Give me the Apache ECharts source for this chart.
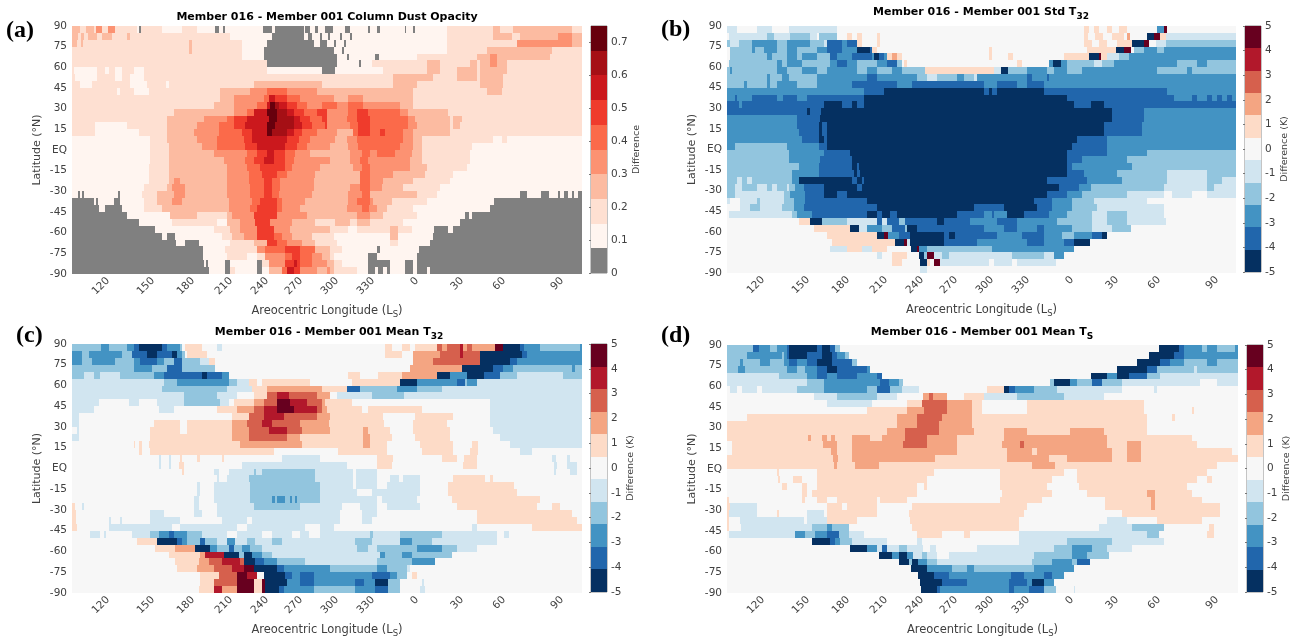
<!DOCTYPE html>
<html><head><meta charset="utf-8">
<style>html,body{margin:0;padding:0;background:#fff}#c{width:1294px;height:637px}</style>
<script src="https://cdn.jsdelivr.net/npm/echarts@6/dist/echarts.min.js"></script>
</head><body><div id="c"></div>
<script>
const lonTickPositions=[36,81,121,159,195,229,265,301,345,390,432,490];
const lonTickLabels=['120','150','180','210','240','270','300','330','0','30','60','90'];
const latTicks=[-90,-75,-60,-45,-30,-15,0,15,30,45,60,75,90];
const redsBins=['#808080','#fff5f0','#fee0d2','#fcbba1','#fc9272','#fb6a4a','#ef3b2c','#cb181d','#a50f15','#67000d'];
const rdbuBins=['#053061','#2166ac','#4393c3','#92c5de','#d1e5f0','#f7f7f7','#fddbc7','#f4a582','#d6604d','#b2182b','#67001f'];
// each row: level, end longitude position, level, end ... (rows run from 90N to 90S in 5 degree bands)
const dustRows=[
[3,8,2,14,3,22,2,24,4,30,2,36,4,43,2,65,1,67,0,69,2,90,1,110,2,125,1,143,0,147,1,151,0,153,1,191,0,200,1,203,0,232,1,233,0,238,1,243,0,246,1,253,0,261,1,273,0,278,1,296,0,298,1,305,0,308,1,333,0,334,1,341,0,343,1,375,2,421,3,428,2,441,3,500,2,510],
[3,6,2,9,3,12,2,16,3,25,2,30,3,40,2,55,3,58,2,158,1,200,0,232,1,236,0,240,1,248,0,250,1,256,0,258,1,268,0,270,1,278,0,280,1,375,2,421,3,440,2,448,3,486,4,500,3,510],
[3,5,2,9,3,11,2,117,3,120,2,170,1,195,0,242,1,248,0,255,1,262,0,264,1,272,0,274,1,375,2,445,4,500,3,510],
[2,117,3,120,2,170,1,192,0,262,1,270,0,272,1,375,2,415,3,480,2,510],
[2,170,1,192,0,265,1,275,0,277,1,303,0,307,1,345,2,405,3,418,4,425,3,478,2,510],
[2,195,0,265,1,287,0,289,1,300,2,355,3,368,2,398,3,405,2,408,3,418,4,425,3,435,2,510],
[2,2,1,25,2,33,1,37,2,43,1,50,2,62,1,72,2,195,1,250,0,263,1,311,2,355,3,368,2,385,3,405,2,408,3,435,2,510],
[2,3,1,25,2,43,1,50,2,58,1,72,2,321,3,361,2,385,3,405,2,408,3,431,2,510],
[2,8,1,20,2,58,1,75,2,94,1,97,2,182,3,250,2,321,3,345,2,408,3,431,2,510],
[2,45,1,48,2,62,1,77,2,148,3,178,4,195,5,215,4,245,3,341,2,415,3,430,2,510],
[2,148,3,162,4,192,5,197,7,203,6,215,5,228,4,262,3,276,4,291,3,341,2,510],
[2,142,3,162,4,185,5,195,7,198,9,203,8,207,7,215,6,225,5,235,4,250,5,265,4,276,5,291,4,328,3,341,2,510],
[2,102,3,162,4,175,5,182,7,195,9,205,8,215,7,222,6,232,5,245,6,255,4,276,5,285,6,296,5,328,4,336,3,376,2,510],
[2,95,3,132,4,155,5,162,6,175,7,197,9,205,8,222,7,228,6,238,5,250,6,255,4,275,5,285,6,298,5,336,4,343,3,378,2,381,3,390,2,510],
[2,23,1,55,2,95,3,125,4,147,5,162,6,173,7,195,9,203,8,222,7,230,6,240,5,253,6,255,4,278,5,286,6,298,5,336,4,345,3,378,2,381,3,388,2,510],
[2,23,1,67,2,95,3,122,4,147,5,170,6,180,7,195,9,200,8,215,7,222,6,230,5,245,4,265,3,281,5,286,6,298,5,308,6,313,5,331,4,341,3,378,2,510],
[1,78,2,95,3,125,4,145,5,172,6,180,7,215,6,227,5,238,4,263,3,275,4,285,5,331,4,341,3,350,2,421,1,430,2,435,1,510],
[1,78,2,97,3,130,4,145,5,173,6,185,7,213,6,225,5,235,4,258,3,276,4,286,5,328,4,341,3,350,2,400,1,510],
[1,78,2,97,3,142,4,175,5,185,6,195,7,202,6,213,5,223,4,238,3,278,4,290,5,298,4,305,5,323,4,340,3,350,2,398,1,510],
[1,78,2,97,3,152,4,173,5,182,6,192,7,202,6,213,5,222,4,258,3,278,4,288,5,296,4,338,3,350,2,398,1,510],
[1,77,2,97,3,155,4,175,5,188,6,213,5,220,4,248,3,281,4,290,5,298,4,338,3,355,2,395,1,510],
[1,77,2,97,3,155,4,177,5,190,6,205,5,215,4,243,3,288,5,298,4,321,3,353,2,381,1,510],
[1,77,2,97,3,102,4,108,3,155,4,177,5,192,6,200,5,208,4,242,3,288,5,298,4,311,3,341,2,378,1,510],
[1,72,2,95,3,100,4,113,3,155,4,178,5,192,6,200,5,208,4,242,3,278,4,288,5,298,4,310,3,331,2,368,1,510],
[1,6,0,8,1,10,0,12,1,46,0,48,1,70,2,85,3,102,4,113,3,155,4,178,5,192,6,200,5,207,4,240,3,276,4,290,5,298,3,345,2,365,1,448,0,455,1,469,0,477,1,486,0,488,1,492,0,496,1,500,0,502,1,506,0,510],
[0,22,1,24,0,26,1,42,0,48,1,72,2,85,3,100,4,110,3,157,4,180,5,188,6,205,5,210,4,233,3,276,4,285,5,298,4,301,3,320,2,355,1,422,0,510],
[0,27,1,33,0,50,1,72,2,90,3,157,4,178,5,185,6,205,5,210,4,228,3,275,4,290,5,297,4,305,3,315,2,341,1,418,0,510],
[0,55,1,98,3,125,2,155,3,160,4,182,6,205,4,235,3,285,4,298,3,311,2,345,1,393,0,397,1,400,0,510],
[0,67,1,100,2,145,1,155,3,168,4,183,6,198,4,220,3,243,2,263,3,278,2,285,3,298,2,331,1,388,0,510],
[0,83,1,142,2,158,3,168,4,185,6,202,4,218,3,258,2,276,1,285,2,318,3,326,2,340,1,362,0,376,1,381,0,510],
[0,90,1,95,0,103,1,150,2,160,3,172,4,185,6,202,5,210,4,220,3,240,2,262,1,318,3,326,1,361,0,510],
[0,104,1,113,0,127,1,158,2,182,3,195,6,205,5,215,4,230,3,243,2,265,1,318,2,326,1,358,0,510],
[0,131,1,153,2,185,4,193,5,213,6,228,5,243,3,258,2,270,1,305,0,308,1,347,0,510],
[0,131,1,155,2,175,1,185,2,193,4,213,5,220,6,228,5,240,4,250,3,258,2,262,1,296,0,305,1,345,0,510],
[0,132,1,134,0,136,1,153,0,158,1,185,0,190,2,197,4,213,6,222,7,225,6,228,5,240,4,255,3,262,2,270,1,296,0,318,1,333,0,341,1,345,0,510],
[0,137,1,153,0,158,2,163,1,185,0,190,1,197,3,210,5,215,7,222,6,228,4,245,3,255,4,258,3,262,2,285,1,296,0,303,1,306,0,311,1,315,0,318,1,333,0,341,1,345,0,355,1,358,0,510]
];
const stdT32Rows=[
[4,10,5,30,4,45,5,62,4,110,5,357,6,362,5,367,6,372,5,380,6,385,5,392,6,400,5,430,2,437,10,440,5,509],
[5,2,4,40,3,47,4,63,3,83,4,90,5,92,3,110,5,120,6,125,5,130,6,135,5,150,6,153,5,357,6,361,5,368,6,376,5,385,6,397,5,400,7,403,5,420,0,427,10,433,6,439,4,509],
[3,3,4,12,3,25,2,50,3,60,2,83,3,97,4,100,1,115,2,120,1,130,6,135,5,150,6,153,5,357,6,365,5,372,6,380,5,390,6,405,0,417,10,422,5,429,4,439,3,509],
[5,3,3,25,2,28,3,37,2,50,3,60,2,70,3,90,2,100,1,115,2,130,0,143,1,145,6,150,5,262,6,265,5,360,6,389,0,397,10,404,5,407,3,417,2,430,3,437,2,509],
[5,3,3,40,2,45,3,60,2,70,3,75,2,90,3,103,1,110,2,125,1,145,2,147,0,152,1,157,2,160,6,165,7,170,6,175,5,262,6,265,5,281,6,286,5,337,6,362,0,372,10,374,6,380,4,392,3,402,2,509],
[5,2,3,50,2,55,3,60,2,75,3,103,2,110,1,120,2,130,3,150,2,160,1,170,3,175,5,177,6,180,5,290,6,295,5,322,2,326,0,334,2,340,3,367,4,375,3,387,2,450,3,470,2,480,3,509],
[3,3,2,5,3,50,2,60,3,75,2,90,3,100,2,130,3,140,2,150,3,165,2,175,3,198,6,267,4,274,0,281,3,300,2,320,3,327,2,340,3,355,2,430,3,460,2,465,3,509],
[3,40,2,43,3,55,2,62,3,90,2,140,1,150,2,190,3,200,4,210,3,230,2,237,3,247,4,250,2,300,1,305,2,320,1,322,2,509],
[3,17,2,20,3,40,2,43,3,50,2,70,3,90,2,125,1,170,2,185,1,257,2,270,1,290,2,300,1,317,2,509],
[2,137,1,157,0,257,1,262,0,265,1,270,0,317,1,440,2,509],
[2,8,1,10,2,25,1,50,2,56,1,70,2,80,1,137,0,340,1,447,2,465,1,470,2,480,1,485,2,490,1,495,2,500,1,505,2,509],
[1,12,2,15,1,97,0,115,1,125,0,130,1,137,0,347,1,364,0,377,1,509],
[1,80,0,83,1,94,0,385,1,417,2,509],
[2,70,1,93,0,385,1,417,2,509],
[2,70,1,92,0,95,1,100,0,377,1,415,2,509],
[2,72,1,92,0,95,1,100,0,377,1,415,2,509],
[2,75,1,92,0,97,1,100,0,350,1,380,2,509],
[2,8,3,60,2,92,1,100,0,345,1,380,2,509],
[3,62,2,97,1,123,0,340,1,380,2,420,3,509],
[3,62,2,93,1,125,0,340,1,355,2,400,3,509],
[3,72,2,92,1,125,0,130,1,132,0,340,1,345,2,405,3,509],
[3,65,2,92,1,127,0,130,1,133,0,340,1,357,2,390,3,440,4,480,3,509],
[3,10,4,15,3,20,4,25,3,65,2,72,0,125,1,130,0,135,1,137,0,320,1,360,2,395,3,440,4,480,3,495,4,509],
[3,8,4,15,3,30,4,40,3,45,4,50,3,60,4,62,3,68,2,77,1,97,0,130,1,135,0,332,1,352,2,364,3,437,4,480,3,487,4,509],
[3,8,4,57,3,63,2,78,1,97,0,110,1,120,0,320,1,340,2,355,3,400,4,437,5,445,4,465,5,480,4,509],
[4,3,5,13,4,30,3,33,4,57,3,67,2,78,1,140,0,307,1,325,2,345,3,367,4,420,5,509],
[5,13,4,23,3,33,4,55,3,67,2,77,1,150,0,247,1,277,0,310,1,325,2,345,3,370,4,437,5,509],
[5,2,4,65,3,70,2,85,1,140,0,150,1,155,0,163,1,170,0,230,1,257,2,265,1,267,2,280,0,297,1,322,2,340,3,365,4,380,3,400,4,437,5,509],
[5,72,6,83,0,95,3,120,4,150,1,155,4,160,1,172,3,178,1,210,0,217,1,243,2,270,1,290,2,330,3,365,4,380,3,400,4,439,5,509],
[5,87,6,123,0,132,4,140,2,155,3,165,1,178,3,180,0,190,1,257,2,277,1,290,2,310,1,317,2,345,3,365,4,385,3,404,5,509],
[5,100,6,150,0,157,10,161,2,172,1,183,0,217,1,222,0,228,1,270,2,295,1,317,2,335,3,347,2,365,1,375,0,380,5,509],
[5,105,6,168,0,177,10,180,4,183,0,217,1,250,2,300,1,317,2,337,1,347,0,363,5,509],
[5,103,4,120,6,135,4,145,6,160,5,184,0,190,10,192,2,200,3,265,2,347,5,509],
[5,150,4,155,5,165,6,180,5,192,0,197,3,200,10,207,4,215,3,222,4,285,3,317,4,327,2,337,5,509],
[5,165,6,175,5,193,0,200,6,203,5,207,10,213,4,262,5,267,4,285,5,290,4,329,5,509],
[5,193,4,200,5,509]
];
const meanT32Rows=[
[3,29,2,37,3,55,2,62,1,67,0,90,1,95,2,108,3,110,5,113,6,130,5,145,4,150,5,313,6,320,5,330,6,338,5,343,6,365,8,370,7,375,8,388,9,391,7,395,8,400,7,423,10,431,0,448,1,452,2,468,3,508,2,510],
[2,10,3,17,2,50,3,60,1,75,0,85,1,100,0,105,2,110,3,113,5,115,6,135,5,313,6,330,5,341,7,368,8,388,9,391,8,408,0,450,1,455,2,510],
[2,10,3,20,2,43,3,62,2,68,1,85,2,92,3,102,1,110,3,128,4,137,6,143,5,341,7,361,8,408,0,438,1,445,2,510],
[3,62,2,80,3,95,1,110,3,143,5,338,7,390,0,421,1,431,2,441,3,500,2,503,3,510],
[3,12,4,22,3,28,4,48,3,82,2,92,1,130,0,135,1,150,2,157,5,276,6,288,5,306,6,330,7,365,0,378,2,395,0,412,1,428,3,445,4,491,3,510],
[4,92,3,105,2,157,3,165,4,177,6,185,5,190,6,238,5,280,6,328,0,345,2,385,1,393,3,395,2,405,4,510],
[4,90,3,155,4,180,6,195,7,250,6,275,1,288,3,325,2,345,3,370,4,510],
[4,112,3,145,4,165,5,182,6,195,8,205,9,217,8,245,7,258,5,265,4,300,3,332,4,510],
[4,27,5,57,4,67,5,85,4,112,3,148,4,157,5,162,6,182,7,192,8,205,10,218,9,235,8,250,7,253,6,280,5,418,4,510],
[4,22,5,87,4,102,5,145,6,165,7,182,8,192,9,205,10,222,9,245,8,250,7,255,6,290,5,296,6,350,5,418,4,510],
[4,7,5,160,6,177,8,192,9,212,8,245,7,258,6,311,5,343,6,381,5,418,4,510],
[4,7,5,82,6,108,5,115,6,160,7,175,8,190,9,200,8,228,7,257,6,312,5,341,6,375,5,418,4,510],
[5,5,4,7,5,78,6,108,5,115,6,160,7,177,8,197,9,215,8,230,7,258,6,291,7,296,6,318,5,341,6,378,5,421,4,510],
[4,7,5,78,6,160,7,177,8,215,7,228,6,291,7,298,6,320,5,343,6,378,5,428,4,510],
[5,62,6,63,5,67,6,70,5,77,6,168,7,230,6,291,7,298,6,315,5,348,6,381,5,400,6,406,5,438,4,510],
[5,67,6,70,5,78,6,202,5,266,6,315,5,350,6,381,5,398,6,406,5,448,4,460,5,510],
[5,87,4,89,5,97,4,99,5,108,6,110,5,125,6,128,5,150,6,152,5,210,4,248,5,305,6,321,5,370,6,385,5,392,6,405,5,480,4,484,5,495,4,498,5,510],
[5,87,4,89,5,97,4,99,5,107,6,112,5,170,4,275,5,305,6,320,5,391,6,405,5,482,4,485,5,495,4,505,5,510],
[5,110,6,112,5,142,4,147,5,157,4,182,3,184,4,190,3,243,4,281,5,284,4,305,5,482,4,484,5,498,4,505,5,510],
[5,145,4,147,5,155,4,177,3,243,4,281,5,284,4,305,5,318,4,327,5,331,4,348,5,381,6,413,5,418,6,421,5,510],
[5,125,4,128,5,142,4,178,3,248,4,281,5,284,4,305,5,315,4,348,5,376,6,442,5,510],
[5,125,4,128,5,142,4,178,3,248,4,285,5,300,4,348,5,376,6,445,5,510],
[5,122,4,127,5,142,4,178,3,200,2,203,3,205,2,213,3,218,2,220,3,223,2,225,3,248,4,305,5,310,4,345,5,380,6,468,5,510],
[6,3,5,10,4,12,5,122,4,127,5,145,4,182,3,228,4,270,5,288,4,305,5,315,4,348,5,385,6,465,5,480,6,488,5,510],
[6,4,5,78,4,92,5,122,4,130,5,145,4,268,5,290,4,305,5,405,6,500,5,510],
[6,4,5,37,4,39,5,48,4,50,5,78,4,108,5,150,4,175,5,180,4,268,5,290,4,300,5,405,6,505,5,510],
[6,5,5,37,4,100,5,108,4,165,5,175,4,233,5,248,4,262,5,400,4,405,5,460,6,510],
[5,18,4,28,5,32,4,34,5,60,4,78,3,87,2,97,1,102,2,115,3,130,4,155,5,165,4,190,5,200,4,220,5,228,4,237,5,248,4,298,3,301,4,328,3,370,4,425,5,432,4,437,5,510],
[5,65,6,85,0,105,1,110,2,115,3,128,1,133,3,145,4,155,2,163,4,175,3,183,4,200,3,210,4,283,3,300,4,328,2,340,3,360,4,425,5,510],
[5,83,6,103,7,123,0,138,2,145,3,157,1,162,3,170,2,178,3,190,4,285,3,296,4,305,3,345,2,370,3,385,4,405,5,510],
[5,97,6,128,7,133,9,152,0,167,3,172,0,180,2,190,3,200,4,308,2,313,3,330,2,340,3,380,5,510],
[5,103,6,127,7,137,8,150,9,168,8,172,0,183,1,192,2,205,3,233,4,305,3,340,2,363,5,510],
[5,105,6,125,7,142,8,160,9,172,10,182,0,205,1,212,2,258,3,305,2,315,3,335,4,338,5,510],
[5,128,6,147,8,165,10,175,9,185,5,192,0,213,1,220,2,228,1,242,2,300,1,318,2,325,3,335,5,340,6,345,5,510],
[5,128,6,142,8,165,10,182,6,190,10,193,0,215,2,228,1,242,2,283,1,292,2,303,0,316,3,328,5,350,4,352,5,510],
[5,127,6,142,9,150,7,165,10,182,6,190,10,193,0,207,1,212,2,242,3,283,2,303,1,316,3,328,5,348,4,353,5,510]
];
const meanTsRows=[
[3,26,1,32,2,43,3,50,2,60,1,62,0,90,1,95,0,103,1,108,3,113,5,432,0,452,1,457,2,475,3,480,2,490,3,508,2,511],
[3,20,2,55,3,57,2,60,1,62,0,80,1,95,0,105,1,110,2,118,3,122,5,422,0,447,1,457,2,511],
[3,13,2,16,3,33,2,43,3,57,2,62,1,70,2,80,1,90,0,105,1,125,3,130,5,410,0,433,1,443,2,457,3,480,2,490,3,511],
[3,11,2,18,3,60,2,70,3,78,2,90,1,100,0,110,1,140,2,143,5,390,0,420,1,430,3,467,4,470,3,511],
[4,52,3,80,2,90,1,100,2,110,1,130,2,150,1,155,5,364,0,380,2,390,0,402,1,420,3,433,4,511],
[4,80,3,97,2,153,1,162,2,172,3,176,5,323,3,327,0,343,2,350,3,365,1,375,3,395,4,473,5,490,4,511],
[5,3,4,10,5,15,4,30,5,35,4,70,3,97,2,140,3,150,1,163,3,175,4,192,5,260,6,277,0,282,1,288,2,307,3,330,4,395,5,427,4,430,5,511],
[5,87,4,110,3,150,4,170,5,196,7,202,8,206,7,220,5,237,6,257,4,290,3,337,4,377,5,511],
[5,100,4,145,5,180,6,195,8,220,7,245,6,255,5,300,6,417,5,511],
[5,140,6,180,7,197,8,220,7,245,6,255,5,300,6,417,5,465,6,467,5,511],
[5,20,6,170,7,190,8,215,7,245,6,420,5,445,6,448,5,511],
[6,170,7,190,8,212,7,245,6,420,5,511],
[6,160,7,178,8,212,7,247,6,277,7,300,6,343,7,377,6,420,5,511],
[6,81,7,84,6,95,7,100,6,104,7,108,6,125,7,143,6,155,7,178,8,200,7,230,6,277,7,380,6,465,5,511],
[5,5,6,96,7,110,6,125,7,176,8,200,7,230,6,275,7,293,8,297,7,380,6,400,7,414,6,470,5,511],
[5,5,6,104,7,110,6,125,7,230,6,280,7,305,6,310,7,385,6,400,7,414,6,505,5,511],
[6,106,7,111,6,125,7,208,6,280,7,322,6,340,7,385,6,400,7,414,6,511],
[6,107,7,110,6,128,7,152,6,305,7,328,6,490,5,511],
[5,50,6,52,5,90,6,207,5,273,6,337,5,350,6,480,5,511],
[5,51,6,53,5,66,6,75,5,90,6,200,5,273,6,325,5,350,6,470,5,480,6,485,5,511],
[5,55,6,60,5,75,6,80,5,90,6,190,5,197,6,200,5,273,6,320,5,352,6,460,5,511],
[5,75,6,80,5,85,6,190,5,275,6,325,5,360,6,420,7,428,6,465,5,511],
[6,2,5,75,6,78,5,90,6,100,5,110,6,150,5,153,6,180,5,273,6,315,5,378,6,424,7,428,6,475,5,511],
[6,3,4,30,5,100,6,115,5,120,6,150,5,185,6,300,5,378,6,424,7,428,6,493,5,511],
[6,2,4,30,5,50,6,52,5,80,4,97,5,100,6,150,5,182,6,297,5,395,6,493,5,511],
[6,2,5,13,4,77,5,80,4,100,6,130,5,183,6,292,5,380,4,400,5,430,6,475,5,511],
[6,2,5,14,4,85,3,100,2,105,3,122,5,185,6,292,5,372,4,405,3,437,5,482,6,487,5,511],
[5,2,4,68,2,78,3,88,2,100,1,112,3,122,4,137,5,190,6,215,5,237,6,243,5,292,4,420,3,432,5,480,6,487,5,511],
[5,85,0,103,1,108,2,113,3,125,4,160,5,190,4,195,5,292,4,340,3,385,4,437,5,511],
[5,123,0,140,2,150,4,155,1,160,4,172,3,180,4,196,5,203,4,209,5,250,4,327,3,345,2,365,3,380,4,405,5,511],
[5,152,0,165,2,172,0,180,2,186,4,195,3,200,4,210,5,222,4,307,3,345,2,360,3,382,5,511],
[5,172,0,182,3,185,0,191,2,200,3,210,4,305,3,325,2,345,3,350,1,363,5,511],
[5,184,0,200,2,225,3,240,2,247,3,307,2,347,5,511],
[5,191,0,207,1,222,2,284,1,297,2,317,1,325,2,337,5,511],
[5,193,0,215,1,240,2,282,1,300,2,305,0,317,2,327,5,511],
[5,194,0,210,1,213,2,282,1,287,2,302,1,317,3,329,5,347,4,348,5,511]
];

const textColor='#404040';
const fontFamily='"DejaVu Sans"';
function cells(rows){
  const out=[];
  rows.forEach((r,i)=>{
    let s=0;
    for(let k=0;k<r.length;k+=2){
      const e=r[k+1];
      if(e>s){out.push([s,e,90-5*i,85-5*i,r[k]]);s=e;}
    }
  });
  return out;
}
function rectItem(colors){
  return function(params,api){
    const a=api.coord([api.value(0),api.value(2)]);
    const b=api.coord([api.value(1),api.value(3)]);
    const c=colors[api.value(4)];
    const x0=Math.round(a[0]),x1=Math.round(b[0]),y0=Math.round(a[1]),y1=Math.round(b[1]);
    return {type:'rect',shape:{x:x0,y:y0,width:x1-x0,height:y1-y0},style:{fill:c}};
  };
}
const panels=[
 {rows:dustRows,colors:redsBins,title:'Member 016 - Member 001 Column Dust Opacity',letter:'(a)',letterX:6,letterY:19,
  x:72,y:26,w:510,h:248,cx:591,cw:16,ttop:12,tx:327,cmin:0,cmax:0.75,step:0.1,cname:'Difference',cgap:22},
 {rows:stdT32Rows,colors:rdbuBins,title:'Member 016 - Member 001 Std T{b|32}',letter:'(b)',letterX:661,letterY:18,
  x:727,y:26,w:509,h:247,cx:1245,cw:16,ttop:4,tx:981,cmin:-5,cmax:5,step:1,cname:'Difference (K)',cgap:17},
 {rows:meanT32Rows,colors:rdbuBins,title:'Member 016 - Member 001 Mean T{b|32}',letter:'(c)',letterX:16,letterY:324,
  x:72,y:344,w:510,h:249,cx:591,cw:16,ttop:324,tx:329,cmin:-5,cmax:5,step:1,cname:'Difference (K)',cgap:17},
 {rows:meanTsRows,colors:rdbuBins,title:'Member 016 - Member 001 Mean T{b|S}',letter:'(d)',letterX:661,letterY:324,
  x:727,y:345,w:511,h:248,cx:1247,cw:16,ttop:324,tx:982,cmin:-5,cmax:5,step:1,cname:'Difference (K)',cgap:17}
];
const option={animation:false,backgroundColor:'#fff',title:[],grid:[],xAxis:[],yAxis:[],series:[]};
panels.forEach(p=>{
  const gi=option.grid.length;
  option.grid.push({left:p.x,top:p.y,width:p.w,height:p.h,show:false,outerBoundsMode:'none'});
  option.xAxis.push({gridIndex:gi,type:'value',min:0,max:p.w,splitLine:{show:false},axisLine:{show:false},axisTick:{show:false},
    name:'Areocentric Longitude (L{s|S})',nameLocation:'middle',nameGap:29,
    nameTextStyle:{color:textColor,fontSize:11.5,fontFamily:fontFamily,rich:{s:{fontSize:8.5,color:textColor,fontFamily:fontFamily,verticalAlign:'bottom',padding:[7,0,0,0]}}},
    axisLabel:{customValues:lonTickPositions,rotate:45,margin:5,color:textColor,fontSize:10.5,fontFamily:fontFamily,
      formatter:v=>lonTickLabels[lonTickPositions.indexOf(v)]}});
  option.yAxis.push({gridIndex:gi,type:'value',min:-90,max:90,splitLine:{show:false},axisLine:{show:false},axisTick:{show:false},
    name:'Latitude (°N)',nameLocation:'middle',nameGap:29,nameRotate:90,
    nameTextStyle:{color:textColor,fontSize:11,fontFamily:fontFamily},
    axisLabel:{customValues:latTicks,margin:5,color:textColor,fontSize:10.5,fontFamily:fontFamily,formatter:v=>v===0?'EQ':String(v)}});
  option.series.push({type:'custom',coordinateSystem:'cartesian2d',xAxisIndex:gi,yAxisIndex:gi,clip:true,progressive:0,silent:true,
    renderItem:rectItem(p.colors),encode:{x:[0,1],y:[2,3]},data:cells(p.rows)});
  // colour bar
  const ci=option.grid.length;
  const n=p.colors.length, bw=(p.cmax-p.cmin)/n;
  option.grid.push({left:p.cx,top:p.y,width:p.cw,height:p.h-1,show:true,borderColor:'#8a8a8a',borderWidth:1,backgroundColor:'#fff',outerBoundsMode:'none'});
  option.xAxis.push({gridIndex:ci,type:'value',min:0,max:1,show:false});
  option.yAxis.push({gridIndex:ci,type:'value',position:'right',min:p.cmin,max:p.cmax,interval:p.step,splitLine:{show:false},axisLine:{show:false},
    axisTick:{show:true,inside:true,length:2,lineStyle:{color:'#777'}},
    name:p.cname,nameLocation:'middle',nameGap:p.cgap,nameRotate:90,
    nameTextStyle:{color:textColor,fontSize:9.5,fontFamily:fontFamily},
    axisLabel:{margin:4,color:textColor,fontSize:10.5,fontFamily:fontFamily,showMaxLabel:p.cmax===5,
      formatter:v=>p.cmax===5?String(v):String(Math.round(v*10)/10)}});
  option.series.push({type:'custom',coordinateSystem:'cartesian2d',xAxisIndex:ci,yAxisIndex:ci,clip:true,silent:true,
    renderItem:rectItem(p.colors),encode:{x:[0,1],y:[2,3]},
    data:p.colors.map((c,i)=>[0,1,p.cmin+bw*i,p.cmin+bw*(i+1),i])});
  option.title.push({text:p.title,left:p.tx,top:p.ttop,textAlign:'center',padding:0,
    textStyle:{color:'#000',fontSize:11,fontWeight:'bold',fontFamily:fontFamily,
      rich:{b:{color:'#000',fontSize:9,fontWeight:'bold',fontFamily:fontFamily,verticalAlign:'bottom',padding:[8,0,0,0]}}}});
  option.title.push({text:p.letter,left:p.letterX,top:p.letterY,padding:0,
    textStyle:{color:'#000',fontSize:24,fontWeight:'bold',fontFamily:'"Liberation Serif"'}});
});
const chart=echarts.init(document.getElementById('c'),null,{renderer:'canvas'});
chart.setOption(option);
</script></body></html>
